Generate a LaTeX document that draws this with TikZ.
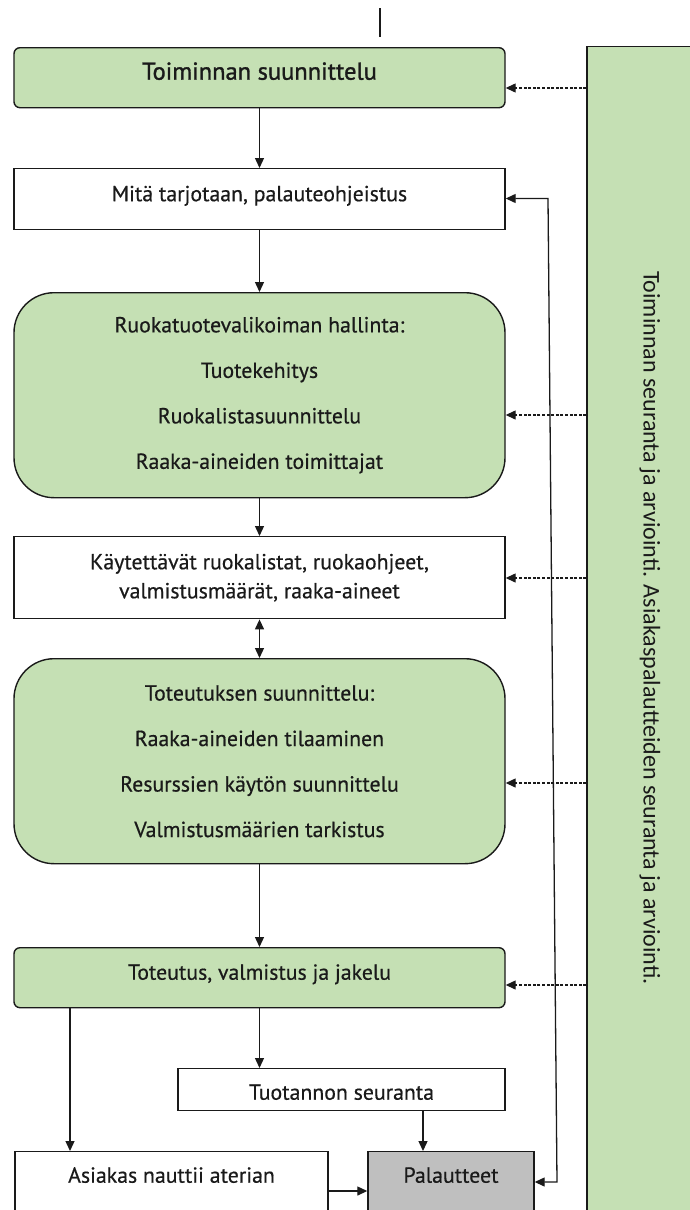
\documentclass[tikz,border=0pt]{standalone}
\usepackage{fontspec}
\setmainfont[FakeBold=0.5]{PT Sans}
\newfontfamily\headfont[FakeBold=1.2]{PT Sans}
\newfontfamily\panelfont{Carlito}
\usetikzlibrary{arrows.meta}
\definecolor{boxgreen}{HTML}{C5E0B4}
\definecolor{boxgray}{HTML}{BFBFBF}
\definecolor{ink}{HTML}{1A1A1A}
\begin{document}
\begin{tikzpicture}[x=1pt,y=-1pt,
  every node/.style={text=ink},
  txt/.style={font=\fontsize{21.8}{25}\selectfont},
  box/.style={txt, draw=ink, line width=1.4pt, inner sep=0pt, anchor=north,
    minimum width=491pt, align=center},
  green/.style={fill=boxgreen},
  single/.style={text height=4pt, text depth=0pt},
  arr/.style={draw=ink, line width=1.3pt, -{Triangle[length=10pt,width=9pt]}},
  darr/.style={draw=ink, line width=1.3pt, {Triangle[length=10pt,width=9pt]}-{Triangle[length=10pt,width=9pt]}},
  dotarr/.style={draw=ink, line width=1.3pt, dash pattern=on 3pt off 1.6pt, -{Triangle[length=10pt,width=9pt]}}
]
\useasboundingbox (0,0) rectangle (690,1210);
\clip (0,0) rectangle (690,1210);
\fill[white] (0,0) rectangle (690,1210);

% right panel
\node[draw=ink, line width=1.4pt, fill=boxgreen, anchor=north, minimum width=123pt, minimum height=1200pt, inner sep=0pt] (panel) at (648.5,46) {};
\node[font=\panelfont\fontsize{24}{28}\selectfont, rotate=-90] (ptext) at (650,628) {Toiminnan seuranta ja arviointi. Asiakaspalautteiden seuranta ja arviointi.};

% boxes
\node[box, green, single, rounded corners=6pt, minimum height=60pt, font=\headfont\fontsize{24.5}{28}\selectfont] (b1) at (259.5,47) {Toiminnan suunnittelu};
\node[box, fill=white, single, minimum height=61pt] (b2) at (259.5,168) {Mitä tarjotaan, palauteohjeistus};
\node[box, green, rounded corners=40pt, minimum height=205pt, font=\fontsize{21.8}{45.5}\selectfont] (b3) at (259.5,292)
  {Ruokatuotevalikoiman hallinta:\\Tuotekehitys\\Ruokalistasuunnittelu\\Raaka-aineiden toimittajat};
\node[box, fill=white, minimum height=82pt, font=\fontsize{21.8}{29}\selectfont] (b4) at (259.5,536)
  {Käytettävät ruokalistat, ruokaohjeet,\\valmistusmäärät, raaka-aineet};
\node[box, green, rounded corners=40pt, minimum height=205pt, font=\fontsize{21.8}{45.5}\selectfont] (b5) at (259.5,658)
  {Toteutuksen suunnittelu:\\Raaka-aineiden tilaaminen\\Resurssien käytön suunnittelu\\Valmistusmäärien tarkistus};
\node[box, green, single, rounded corners=6pt, minimum height=60pt] (b6) at (259.5,947) {Toteutus, valmistus ja jakelu};
\node[box, fill=white, minimum width=327pt, minimum height=42pt, text height=20pt, text depth=0pt] (b7) at (341.5,1068) {Tuotannon seuranta};
\node[box, fill=white, minimum width=313pt, minimum height=90pt, text height=0pt, text depth=28pt] (b8) at (171.5,1151) {Asiakas nauttii aterian};
\node[box, fill=boxgray, minimum width=166pt, minimum height=90pt, text height=0pt, text depth=28pt] (b9) at (451,1151) {Palautteet};

% helper coordinates
\coordinate (t1) at (380,8);
\coordinate (t2) at (380,37);
\coordinate (cx1) at (70,0);
\coordinate (cx2) at (423,0);
\coordinate (cy1) at (0,1191);
\coordinate (fb1) at (548,198.5);
\coordinate (fb2) at (557,1182);
\coordinate (d1) at (0,88);
\coordinate (d3) at (0,415);
\coordinate (d4) at (0,578);
\coordinate (d5) at (0,783);
\coordinate (d6) at (0,985);

\draw[draw=ink, line width=1.3pt] (t1) -- (t2);

% main flow
\draw[arr] (b1.south) -- (b2.north);
\draw[arr] (b2.south) -- (b3.north);
\draw[arr] (b3.south) -- (b4.north);
\draw[darr] (b4.south) -- (b5.north);
\draw[arr] (b5.south) -- (b6.north);
\draw[arr] (b6.south) -- (b6.south |- b7.north);
\draw[arr] (b6.south -| cx1) -- (b8.north -| cx1);
\draw[arr] (b7.south -| cx2) -- (b9.north -| cx2);
\draw[arr] (b8.east |- cy1) -- (b9.west |- cy1);

% feedback loop
\draw[darr] (b2.east |- fb1) -- (fb1) -- (fb2) -- (b9.east |- fb2);

% dotted arrows from panel
\draw[dotarr] (panel.west |- d1) -- (b1.east |- d1);
\draw[dotarr] (panel.west |- d3) -- (b3.east |- d3);
\draw[dotarr] (panel.west |- d4) -- (b4.east |- d4);
\draw[dotarr] (panel.west |- d5) -- (b5.east |- d5);
\draw[dotarr] (panel.west |- d6) -- (b6.east |- d6);
\end{tikzpicture}
\end{document}
